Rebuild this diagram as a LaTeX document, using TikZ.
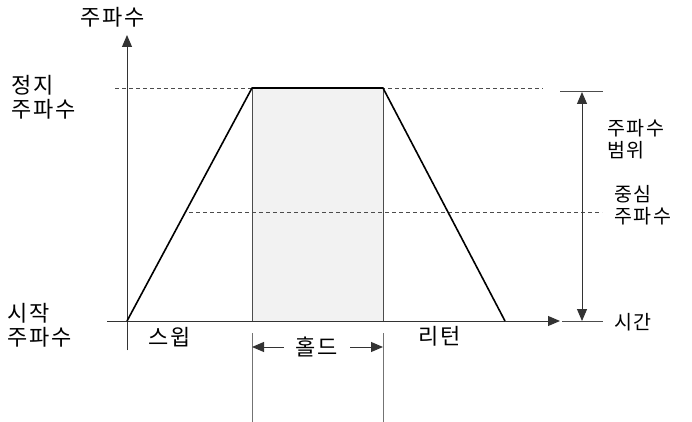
\documentclass[tikz,border=0pt]{standalone}
\usepackage{fontspec}
\newfontfamily\krfont[LetterSpace=8]{Noto Sans CJK KR}
\usetikzlibrary{arrows.meta,positioning}

\begin{document}
\begin{tikzpicture}[
        x=1pt, y=-1pt,
        label/.style={font=\krfont\fontsize{22}{24}\selectfont, inner sep=0pt, align=left},
        side/.style={font=\krfont\fontsize{19.5}{22}\selectfont, inner sep=0pt, align=left},
        axis/.style={draw=black!70, line width=1pt},
        arrow/.style={-{Triangle[length=12pt, width=10pt]}, line width=1pt, draw=black!80, fill=black!80},
        span/.style={{Triangle[length=12pt, width=10pt]}-{Triangle[length=12pt, width=10pt]}, line width=1pt, draw=black!80},
        guide/.style={draw=black!70, line width=0.6pt, dash pattern=on 4pt off 3pt},
        ramp/.style={line width=1.6pt, line join=round}
    ]
    \useasboundingbox (0,0) rectangle (692,422);

    % Corner points of the profile
    \coordinate (o) at (127,321);
    \coordinate (p1) at (252,88);
    \coordinate (p2) at (383,88);
    \coordinate (p3) at (505,321);
    \coordinate (h1) at (252,321);
    \coordinate (h2) at (383,321);

    % Hold region
    \fill[black!5] (p1) rectangle (h2);
    \draw[axis, line width=0.8pt] (p1) -- (h1) (p2) -- (h2);

    % Axes
    \coordinate (ybot) at (127,350);
    \coordinate (ytop) at (127,35);
    \coordinate (xleft) at (107,321);
    \coordinate (xright) at (560,321);
    \draw[arrow] (ybot) -- (ytop);
    \draw[arrow] (xleft) -- (xright);

    % Guide lines
    \coordinate (g1a) at (115,88);
    \coordinate (g1b) at (543,88);
    \coordinate (g2a) at (189,212);
    \coordinate (g2b) at (602,212);
    \draw[guide] (g1a) -- (g1b);
    \draw[guide] (g2a) -- (g2b);

    % Profile
    \draw[ramp] (o) -- (p1) -- (p2) -- (p3);

    % Frequency range
    \coordinate (rtop) at (582,92);
    \coordinate (rbot) at (582,321);
    \coordinate (t1a) at (560,92);
    \coordinate (t1b) at (603,92);
    \coordinate (t2a) at (562,321);
    \coordinate (t2b) at (603,321);
    \draw[axis] (t1a) -- (t1b);
    \draw[axis] (t2a) -- (t2b);
    \draw[span] (rtop) -- (rbot);

    % Hold width
    \coordinate (v1a) at (252,333);
    \coordinate (v1b) at (252,422);
    \coordinate (v2a) at (383,333);
    \coordinate (v2b) at (383,422);
    \draw[axis, line width=0.8pt, draw=black!55] (v1a) -- (v1b) (v2a) -- (v2b);
    \node[label] (hold) at (317,347) {홀드};
    \coordinate (hl) at (252,347);
    \coordinate (hr) at (383,347);
    \draw[arrow, shorten <=12pt] (hold.west) -- (hl);
    \draw[arrow, shorten <=12pt] (hold.east) -- (hr);

    % Labels
    \node[label] (faxis) at (113,17) {주파수};
    \node[label, anchor=west] (fstop) at (11,97) {정지\\주파수};
    \node[label, anchor=west] (fstart) at (7,325) {시작\\주파수};
    \node[label] (sweep) at (170,337) {스윕};
    \node[label] (ret) at (440,336) {리턴};
    \node[side, anchor=west] (time) at (614,322) {시간};
    \node[side, anchor=west] (frange) at (607,139) {주파수\\범위};
    \node[side, anchor=west] (fcenter) at (614,205) {중심\\주파수};

\end{tikzpicture}
\end{document}
